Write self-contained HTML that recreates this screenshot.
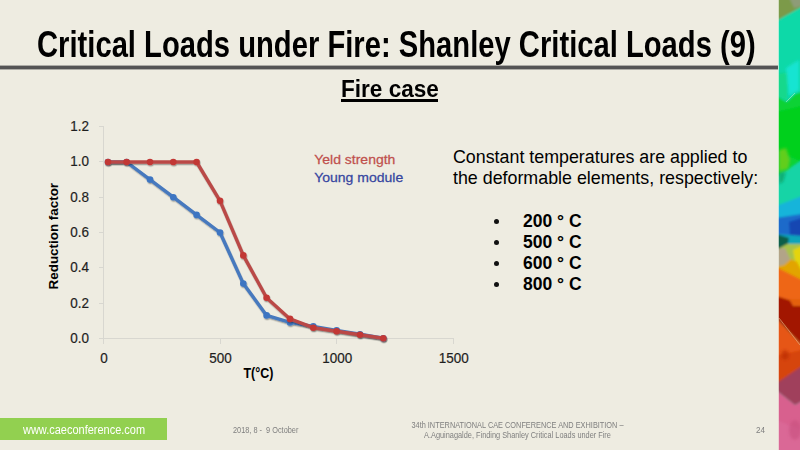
<!DOCTYPE html>
<html><head><meta charset="utf-8">
<style>
html,body{margin:0;padding:0;}
body{width:800px;height:450px;overflow:hidden;background:#EEECE1;position:relative;font-family:"Liberation Sans",Arial,sans-serif;}
.a{position:absolute;white-space:nowrap;line-height:1;}
#title{left:37px;top:26.5px;font-size:36px;font-weight:bold;color:#000;transform:scaleX(0.811);transform-origin:0 0;}
#rule{position:absolute;left:0;top:65px;width:779px;height:5px;background:linear-gradient(#adaca6 0,#adaca6 1px,#545454 1px,#545454 4px,#adaca6 4px);}
#fire{left:341.3px;top:78.3px;font-size:23px;font-weight:bold;transform:scaleX(0.981);transform-origin:0 0;}
#ful{position:absolute;left:341px;top:99px;width:97px;height:3px;background:#000;}
#para{left:453px;top:147.2px;font-size:17.83px;line-height:20.7px;color:#000;}
#bul{left:487px;top:211.3px;font-size:17.5px;line-height:20.93px;font-weight:bold;color:#000;}
#bul div{position:relative;}
#bul span.b{position:absolute;left:6.8px;top:7.4px;width:5px;height:5px;border-radius:50%;background:#111;}
#bul span.t{margin-left:36px;}
#strip{position:absolute;left:777px;top:0;width:23px;height:450px;}
#green{position:absolute;left:0;top:418px;width:167px;height:22px;background:#92D050;}
#www{left:23px;top:423.5px;font-size:12px;color:#fff;transform:scaleX(0.915);transform-origin:0 0;}
#date{left:233px;top:426.3px;font-size:8.8px;color:#7f7f7f;transform:scaleX(0.835);transform-origin:0 0;}
#conf{left:380.7px;width:273px;top:419.5px;font-size:9px;line-height:10.5px;color:#7f7f7f;text-align:center;}
#conf div{transform:scaleX(0.817);}
#pg{left:756px;top:424.5px;font-size:9.6px;color:#7f7f7f;transform:scaleX(0.85);transform-origin:0 0;}
</style></head>
<body>
<div class="a" id="title">Critical Loads under Fire: Shanley Critical Loads (9)</div>
<div id="rule"></div>
<div class="a" id="fire">Fire case</div>
<div id="ful"></div>

<svg width="800" height="450" style="position:absolute;left:0;top:0">
  <defs><filter id="sh" x="-10%" y="-10%" width="120%" height="120%"><feDropShadow dx="0.6" dy="1.3" stdDeviation="0.7" flood-color="#000" flood-opacity="0.35"/></filter></defs>
  <g stroke="#d8d7d0" stroke-width="1" fill="none" shape-rendering="crispEdges">
    <line x1="103.5" y1="126.5" x2="103.5" y2="338.5"/>
    <line x1="103.5" y1="338.5" x2="453.5" y2="338.5"/>
    <line x1="98.5" y1="126.5" x2="103.5" y2="126.5"/>
    <line x1="98.5" y1="161.5" x2="103.5" y2="161.5"/>
    <line x1="98.5" y1="197.5" x2="103.5" y2="197.5"/>
    <line x1="98.5" y1="232.5" x2="103.5" y2="232.5"/>
    <line x1="98.5" y1="267.5" x2="103.5" y2="267.5"/>
    <line x1="98.5" y1="303.5" x2="103.5" y2="303.5"/>
    <line x1="98.5" y1="338.5" x2="103.5" y2="338.5"/>
    <line x1="103.5" y1="338.5" x2="103.5" y2="343.5"/>
    <line x1="220.5" y1="338.5" x2="220.5" y2="343.5"/>
    <line x1="336.5" y1="338.5" x2="336.5" y2="343.5"/>
    <line x1="453.5" y1="338.5" x2="453.5" y2="343.5"/>
  </g>
  <g font-family="Liberation Sans, Arial, sans-serif" font-size="15" fill="#1e1e1e" stroke="#1e1e1e" stroke-width="0.2" text-anchor="end">
    <text transform="translate(89,131.1) scale(0.9,1)">1.2</text>
    <text transform="translate(89,166.4) scale(0.9,1)">1.0</text>
    <text transform="translate(89,201.6) scale(0.9,1)">0.8</text>
    <text transform="translate(89,236.9) scale(0.9,1)">0.6</text>
    <text transform="translate(89,272.2) scale(0.9,1)">0.4</text>
    <text transform="translate(89,307.5) scale(0.9,1)">0.2</text>
    <text transform="translate(89,342.7) scale(0.9,1)">0.0</text>
  </g>
  <g font-family="Liberation Sans, Arial, sans-serif" font-size="15" fill="#1e1e1e" stroke="#1e1e1e" stroke-width="0.2" text-anchor="middle">
    <text transform="translate(104,362.6) scale(0.9,1)">0</text>
    <text transform="translate(220.6,362.6) scale(0.9,1)">500</text>
    <text transform="translate(337.2,362.6) scale(0.9,1)">1000</text>
    <text transform="translate(453.7,362.6) scale(0.9,1)">1500</text>
  </g>
  <text x="0" y="0" transform="translate(58.2,289.4) rotate(-90) scale(0.994,1)" font-family="Liberation Sans, Arial, sans-serif" font-weight="bold" font-size="13.5" fill="#000">Reduction factor</text>
  <text x="0" y="0" transform="translate(243.5,377.6) scale(0.89,1)" font-family="Liberation Sans, Arial, sans-serif" font-weight="bold" font-size="14" fill="#000">T(°C)</text>
  <g font-family="Liberation Sans, Arial, sans-serif" font-size="13" stroke-width="0.25">
    <text x="0" y="0" transform="translate(314.2,163.8) scale(1.078,1)" fill="#C0504D" stroke="#C0504D">Yeld strength</text>
    <text x="0" y="0" transform="translate(314.2,181.5) scale(1.078,1)" fill="#3646A0" stroke="#3646A0">Young module</text>
  </g>
  <g filter="url(#sh)"><g fill="none" stroke-width="3.4" stroke-linejoin="round">
    <polyline stroke="#4679BE" points="108.0,162.0 126.6,162.0 150.0,179.6 173.3,197.2 196.6,214.9 220.0,232.5 243.3,283.6 266.6,315.4 290.0,322.4 313.3,326.4 336.6,330.4 360.0,334.3 383.3,338.3"/>
  </g>
  <g fill="#3C75C2">
    <circle cx="108.0" cy="162.0" r="3.3"/><circle cx="126.6" cy="162.0" r="3.3"/><circle cx="150.0" cy="179.6" r="3.3"/><circle cx="173.3" cy="197.2" r="3.3"/><circle cx="196.6" cy="214.9" r="3.3"/><circle cx="220.0" cy="232.5" r="3.3"/><circle cx="243.3" cy="283.6" r="3.3"/><circle cx="266.6" cy="315.4" r="3.3"/><circle cx="290.0" cy="322.4" r="3.3"/><circle cx="313.3" cy="326.4" r="3.3"/><circle cx="336.6" cy="330.4" r="3.3"/><circle cx="360.0" cy="334.3" r="3.3"/><circle cx="383.3" cy="338.3" r="3.3"/>
  </g></g>
  <g filter="url(#sh)"><g fill="none" stroke-width="3.4" stroke-linejoin="round">
    <polyline stroke="#BA4A47" points="108.0,162.0 126.6,162.0 150.0,162.0 173.3,162.0 196.6,162.0 220.0,200.8 243.3,255.4 266.6,297.7 290.0,318.9 313.3,327.7 336.6,331.2 360.0,334.8 383.3,338.3"/>
  </g>
  <g fill="#C23836">
    <circle cx="108.0" cy="162.0" r="3.3"/><circle cx="126.6" cy="162.0" r="3.3"/><circle cx="150.0" cy="162.0" r="3.3"/><circle cx="173.3" cy="162.0" r="3.3"/><circle cx="196.6" cy="162.0" r="3.3"/><circle cx="220.0" cy="200.8" r="3.3"/><circle cx="243.3" cy="255.4" r="3.3"/><circle cx="266.6" cy="297.7" r="3.3"/><circle cx="290.0" cy="318.9" r="3.3"/><circle cx="313.3" cy="327.7" r="3.3"/><circle cx="336.6" cy="331.2" r="3.3"/><circle cx="360.0" cy="334.8" r="3.3"/><circle cx="383.3" cy="338.3" r="3.3"/>
  </g></g>
</svg>

<div class="a" id="para">Constant temperatures are applied to<br>the deformable elements, respectively:</div>
<div class="a" id="bul">
  <div><span class="b"></span><span class="t">200 ° C</span></div>
  <div><span class="b"></span><span class="t">500 ° C</span></div>
  <div><span class="b"></span><span class="t">600 ° C</span></div>
  <div><span class="b"></span><span class="t">800 ° C</span></div>
</div>

<svg id="strip" width="23" height="450" viewBox="-2 0 23 450">
  <defs>
    <filter id="bl" x="-20%" y="-5%" width="140%" height="110%"><feGaussianBlur stdDeviation="0.8"/></filter>
    <filter id="bl2" x="-50%" y="-20%" width="200%" height="140%"><feGaussianBlur stdDeviation="1.6"/></filter>
    <clipPath id="sc"><rect x="-1" y="0" width="22" height="450"/></clipPath>
  </defs>
  <g clip-path="url(#sc)">
  <g filter="url(#bl)">
  <rect x="-3" y="-5" width="26" height="460" fill="#0CD9A8"/>
  <polygon points="-3,-5 23,-5 23,6.5 -3,21" fill="#7C9A4A"/>
  <polygon points="9,-5 23,-5 23,6 15,8" fill="#8E9C78"/>
  <polygon points="-3,74 10,72 8,100 -3,96" fill="#12D88C"/>
  <polygon points="-3,96 8,102 16,94 23,92 23,165 -3,180" fill="#08D236"/>
  <polygon points="-3,112 23,106 23,162 -3,150" fill="#04D01C"/>
  <polygon points="-3,178 23,160 23,200 -3,206" fill="#18D4A6"/>
  <polygon points="-3,206 23,196 23,218 -3,218" fill="#14B4DA"/>
  <polygon points="-3,218 23,214 23,238 -3,236" fill="#1A6ACA"/>
  <polygon points="10,222 23,218 23,236 11,235" fill="#1446B2"/>
  <polygon points="-3,234 23,236 23,246 -3,250" fill="#10A4BA"/>
  <polygon points="-3,234 10,238 8,248 -3,252" fill="#0B5E48"/>
  <polygon points="-3,250 8,244 23,244 23,270 -3,270" fill="#A9C248"/>
  <polygon points="-3,249 6,248 12,261 5,266 -3,268" fill="#B2A488"/>
  <polygon points="14,250 23,246 23,275 18,273" fill="#E4D408"/>
  <polygon points="-3,267 5,265 12,259 18,262 23,272 23,282 -3,270" fill="#E2A402"/>
  <polygon points="-3,267 23,280 23,302 -3,300" fill="#EE6612"/>
  <polygon points="-3,296 23,304 23,345 -3,318" fill="#A21406"/>
  <polygon points="10,299 23,299 23,306 14,306" fill="#E46010"/>
  <polygon points="-3,318 23,345 23,368 -3,386" fill="#E65614"/>
  <polygon points="-3,356 23,350 23,368 -3,384" fill="#D6440E"/>
  <polygon points="-3,383.5 23,366 23,401 16,405 -3,390" fill="#A0415C"/>
  <polygon points="-3,390 16,405 23,401 23,455 -3,455" fill="#D8608E"/>
  <polygon points="-3,420 23,430 23,455 -3,455" fill="#DA6896"/>
  </g>
  <g filter="url(#bl2)">
  <polygon points="7,68 20,60 20,90 15,93 10,96" fill="#14E4D2"/>
  <polygon points="0,150 7,148 11,160 9,169 0,171" fill="#62CE1E"/>
  <polygon points="0,173 7,172 4,182 0,184" fill="#10AE74"/>
  <ellipse cx="16" cy="430" rx="6" ry="10" fill="#C8507E" opacity="0.6"/>
  <ellipse cx="6" cy="355" rx="4" ry="5" fill="#B82A08" opacity="0.6"/>
  </g>
  <line x1="7" y1="102" x2="16" y2="93" stroke="#B8F0C8" stroke-width="1" opacity="0.6"/>
  <line x1="0" y1="318" x2="21" y2="345" stroke="#F0C090" stroke-width="0.7" opacity="0.8"/>
  <rect x="-1" y="0" width="1" height="450" fill="#F4F6EC" opacity="0.72"/>
  </g>
</svg>

<div id="green"></div>
<div class="a" id="www">www.caeconference.com</div>
<div class="a" id="date">2018, 8 -&nbsp; 9 October</div>
<div class="a" id="conf"><div>34th INTERNATIONAL CAE CONFERENCE AND EXHIBITION –</div><div>A.Aguinagalde, Finding Shanley Critical Loads under Fire</div></div>
<div class="a" id="pg">24</div>
</body></html>
